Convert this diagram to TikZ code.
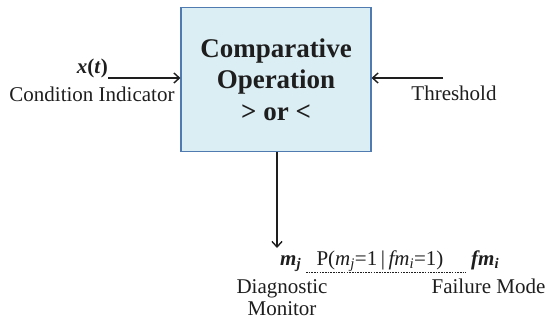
\documentclass[tikz,border=0pt]{standalone}
\usepackage{fontspec}
\setmainfont{Liberation Serif}
\usetikzlibrary{arrows.meta}
\definecolor{boxfill}{HTML}{DBEEF4}
\definecolor{boxline}{HTML}{4F7BB0}
\definecolor{ink}{HTML}{1E1E1E}
\tikzset{
  txt/.style={inner sep=0pt, text=ink, font=\fontsize{21pt}{22pt}\selectfont, anchor=base},
  arr/.style={draw=ink, line width=1.6pt, -{Straight Barb[length=5.5pt,width=10pt,line width=1.4pt]}},
  opbox/.style={draw=boxline, line width=1.1pt, fill=boxfill, minimum width=190pt, minimum height=144pt,
    inner sep=0pt, align=center, text=ink, font=\fontsize{27pt}{31.5pt}\selectfont\bfseries},
  dsh/.style={draw=ink, line width=0.7pt, dash pattern=on 1.6pt off 1.1pt}
}
\begin{document}
\begin{tikzpicture}[x=1pt, y=-1pt]
\useasboundingbox (0,0) rectangle (546,323);
\node[opbox] (box) at (276,79.5) {Comparative\\Operation\\{>} or {<}};
% left input
\coordinate (xin) at (108,78);
\node[txt, anchor=base east] (xt) at (108,74) {\textbf{\textit{x}(\textit{t})}};
\node[txt] (ci) at (92,102) {Condition Indicator};
\draw[arr] (xin) -- (xin -| box.west);
% right input
\coordinate (thin) at (443,78);
\node[txt] (th) at (454,101) {Threshold};
\draw[arr] (thin) -- (thin -| box.east);
% output
\coordinate (mtop) at (277,248);
\draw[arr] (box.south -| mtop) -- (mtop);
\node[txt, anchor=base west] (mj) at (280,265) {\textbf{\textit{m}}\textsubscript{\textbf{\textit{j}}}};
\node[txt] (dg) at (282,293) {Diagnostic};
\node[txt] (mo) at (282,315) {Monitor};
% relation
\node[txt, anchor=base west] (fm) at (471,265) {\textbf{\textit{fm}}\textsubscript{\textbf{\textit{i}}}};
\node[txt] (fmode) at (488.5,293) {Failure Mode};
\node[txt] (pl) at (380,265) {P(\textit{m}\textsubscript{\textit{j}}=1\,|\,\textit{fm}\textsubscript{\textit{i}}=1)};
\coordinate (d1) at (306,272);
\coordinate (d2) at (466,272);
\draw[dsh] (d1) -- (d2);
\end{tikzpicture}
\end{document}
